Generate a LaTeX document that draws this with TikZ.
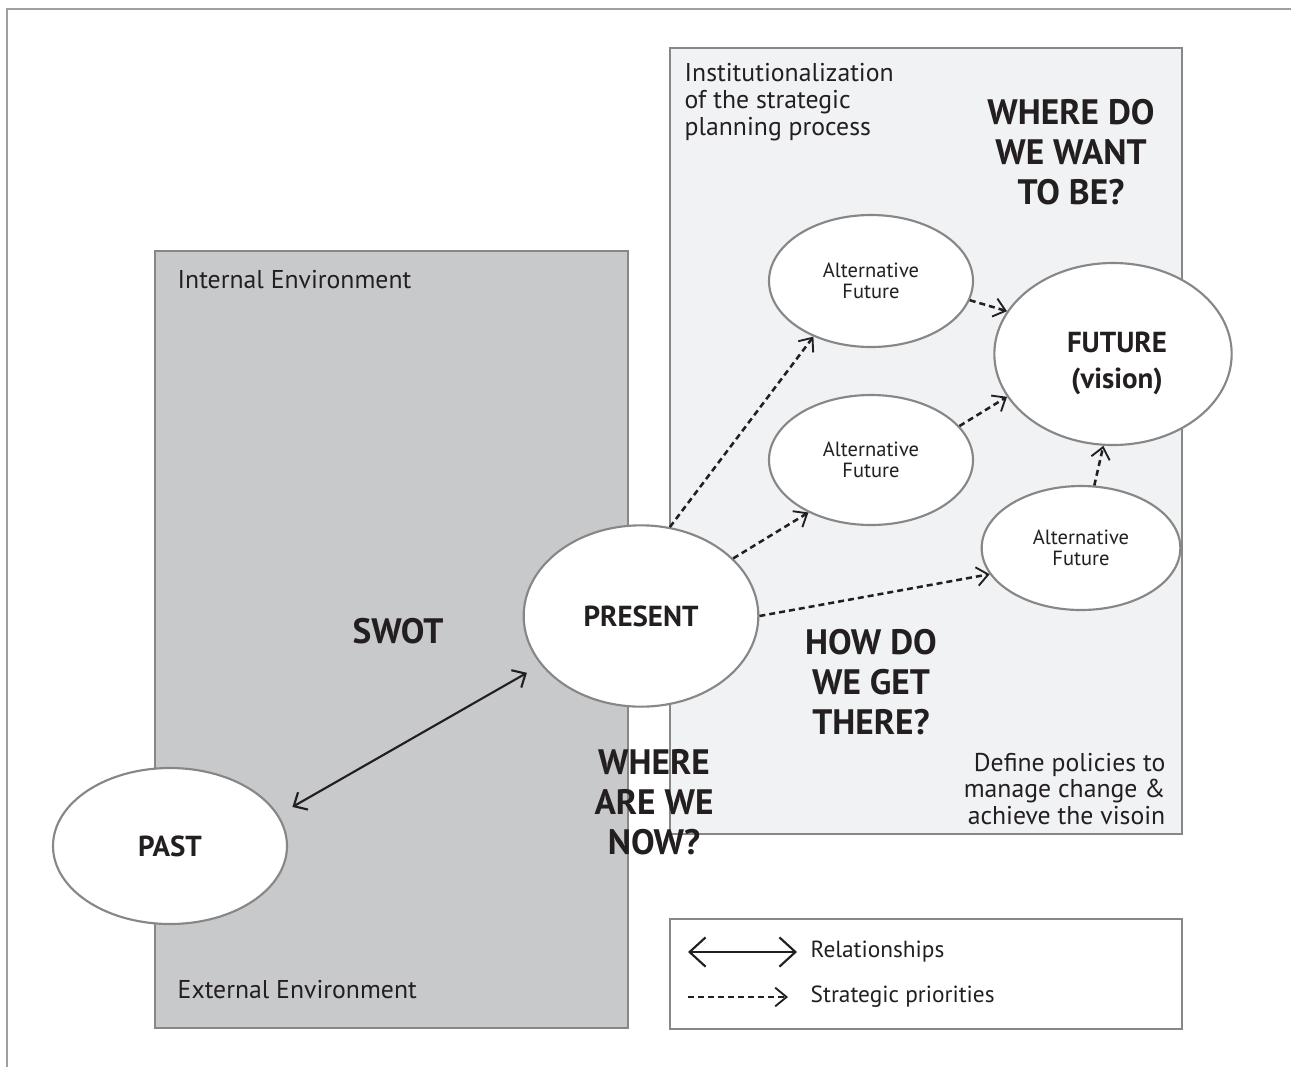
\documentclass[tikz,border=0pt]{standalone}
\usepackage{fontspec}
\setmainfont{PT Sans}
\usepackage{xcolor}
\usetikzlibrary{arrows.meta,shapes.geometric}

\definecolor{envgrey}{HTML}{C8C9CB}
\definecolor{planbg}{HTML}{F1F2F4}
\definecolor{edgegrey}{HTML}{878787}
\definecolor{ink}{HTML}{231F20}

\begin{document}
\begin{tikzpicture}[x=0.75pt,y=-0.75pt]
% define the looks
\tikzset{
    envbox/.style={draw=edgegrey,line width=1.6pt},
    stage/.style={ellipse,draw=edgegrey,fill=white,line width=1.6pt,inner sep=0pt,text=ink,align=center},
    rel/.style={ink,line width=1.6pt,{Straight Barb[length=8pt,width=15pt]}-{Straight Barb[length=8pt,width=15pt]}},
    prio/.style={ink,line width=1.9pt,dash pattern=on 4.5pt off 3pt,-{Straight Barb[length=8.5pt,width=14pt,line width=1.4pt]}},
    ask/.style={font=\bfseries\fontsize{26.5}{30}\selectfont,text=ink,align=center},
    note/.style={font=\fontsize{19.3}{20.2}\selectfont,text=ink},
    altfont/.style={font=\fontsize{15.4}{16}\selectfont},
}

%% CONFIG
\def\bigF{\bfseries\fontsize{21.7}{27}\selectfont}

\useasboundingbox (0,0) rectangle (1291,1067);

% Outer frame (top and left only)
\draw [edgegrey!80,line width=1.6pt] (7,1067) -- (7,9) -- (1291,9);

% Draw the two environment boxes
\draw [envbox,fill=envgrey] (155,251) rectangle (628,1028);
\draw [envbox,fill=planbg] (670,48) rectangle (1182,834);
% Draw legend box
\draw [envbox,fill=white] (670,919) rectangle (1182,1029);

% Box texts
\node [note,anchor=west] (internal) at (173,280) {Internal Environment};
\node [note,anchor=west] (external) at (173,990) {External Environment};
\node [note,anchor=north west,align=left] (instit) at (680,59) {Institutionalization\\of the strategic\\planning process};
\node [note,anchor=east,align=right] (policies) at (1170,789) {Define policies to\\manage change \&\\achieve the visoin};

% Draw the stages
\node [stage,minimum width=175.5pt,minimum height=117pt,font=\bigF] (past) at (170,846) {PAST};
\node [stage,minimum width=176pt,minimum height=136pt,font=\bigF] (present) at (641,616) {PRESENT};
\node [stage,minimum width=153pt,minimum height=99pt,altfont] (alt1) at (871,281) {Alternative\\Future};
\node [stage,minimum width=153pt,minimum height=97.5pt,altfont] (alt2) at (871,460) {Alternative\\Future};
\node [stage,minimum width=149pt,minimum height=93pt,altfont] (alt3) at (1081,548) {Alternative\\Future};
\node [stage,minimum width=178pt,minimum height=136.5pt] (future) at (1113,354) {};
\node [font=\bigF,text=ink,align=center] (futurelbl) at (1117,363) {FUTURE\\(vision)};

% Questions
\node [ask] (swot) at (398,631) {SWOT};
\node [ask] (qwant) at (1071,152) {WHERE DO\\WE WANT\\TO BE?};
\node [ask] (qget) at (871,682) {HOW DO\\WE GET\\THERE?};
\node [ask] (qnow) at (654,802) {WHERE\\ARE WE\\NOW?};

% Relationship between past and present
\draw [rel,shorten <=12pt,shorten >=12pt] (past.16) -- (present.206);

% Strategic priorities
\draw [prio] (present.72) -- (alt1.224);
\draw [prio] (present.32) -- (alt2.220);
\draw [prio] (present.0) -- (alt3.196);
\draw [prio] (alt1.349) -- (future.158);
\draw [prio] (alt2.21) -- (future.202);
\draw [prio] (alt3.78) -- (future.264);

%%% Legend
\coordinate (relA) at (688,952);
\coordinate (relB) at (797,952);
\coordinate (prioA) at (688,997);
\coordinate (prioB) at (788,997);
\draw [ink,line width=1.6pt,{Straight Barb[length=12pt,width=22pt]}-{Straight Barb[length=12pt,width=22pt]}] (relA) -- (relB);
\draw [prio] (prioA) -- (prioB);
\node [note,font=\fontsize{17.5}{19}\selectfont,anchor=west] (reltext) at (806,952) {Relationships};
\node [note,font=\fontsize{17.5}{19}\selectfont,anchor=west] (priotext) at (806,997) {Strategic priorities};

\end{tikzpicture}
\end{document}
